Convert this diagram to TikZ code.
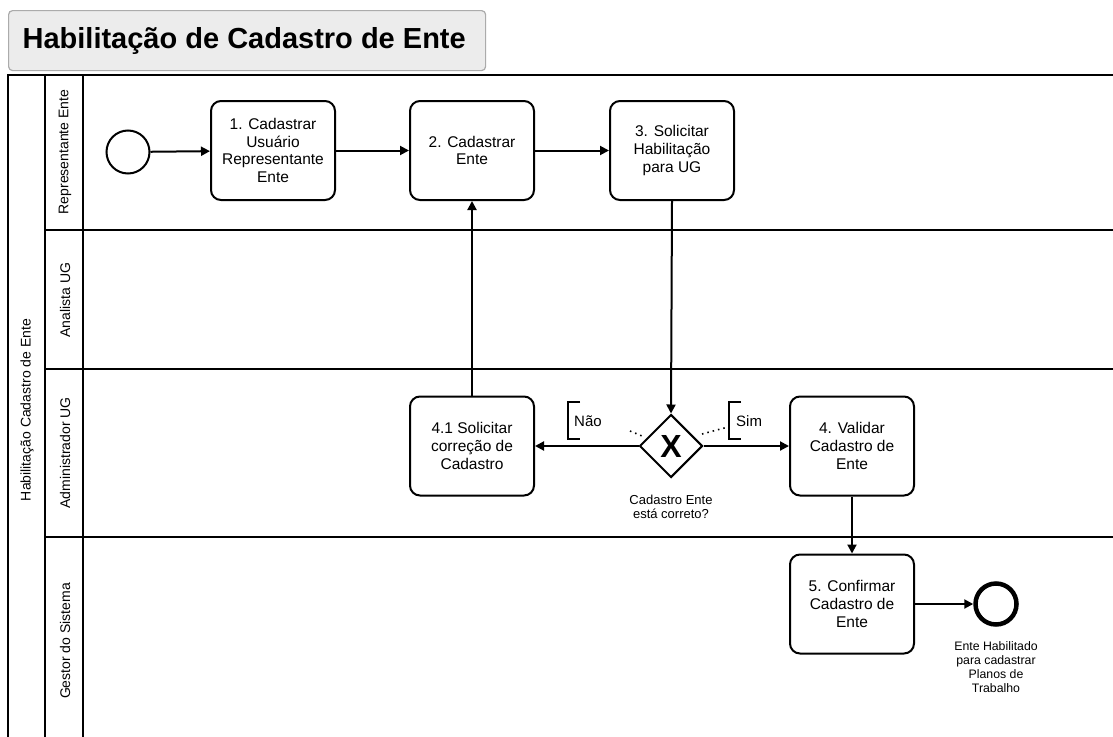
\documentclass[tikz,border=0pt]{standalone}
\usepackage{fontspec}
\setmainfont{Liberation Sans}
\usetikzlibrary{arrows.meta,shapes.geometric}
\definecolor{titlefill}{HTML}{ECECEC}
\definecolor{titledraw}{HTML}{ABABAB}
\tikzset{
  lanestroke/.style={line width=2pt, black},
  task/.style={draw, line width=2pt, rounded corners=10pt, minimum width=124pt, minimum height=99pt, align=center, font=\fontsize{15.5}{17.6}\selectfont, inner sep=2pt},
  flow/.style={line width=2pt, -{Triangle[length=9pt,width=9pt]}},
  lanelabel/.style={rotate=90, font=\fontsize{14}{17}\selectfont},
  evstart/.style={draw, circle, line width=2pt, minimum size=43pt, inner sep=0pt},
  evend/.style={draw, circle, line width=4.5pt, minimum size=41pt, inner sep=0pt},
  gw/.style={draw, diamond, line width=2pt, minimum width=63pt, minimum height=63pt, inner sep=0pt, fill=white, font=\fontsize{32}{32}\selectfont\bfseries},
  small/.style={align=center, font=\fontsize{13}{14.5}\selectfont},
  tiny/.style={align=center, font=\fontsize{12.3}{14}\selectfont},
  note/.style={line width=2pt},
  assoc/.style={line width=1.6pt, dash pattern=on 1.5pt off 4pt},
  annot/.style={anchor=west, font=\fontsize{15}{17}\selectfont, inner sep=0pt},
}
\begin{document}
\begin{tikzpicture}[x=1pt,y=-1pt]
\useasboundingbox (0,0) rectangle (1113,736);
\clip (0,0) rectangle (1113,736);
% title
\node[draw=titledraw, fill=titlefill, line width=1.2pt, rounded corners=4pt, minimum height=60pt, inner xsep=14pt, anchor=north west, font=\fontsize{29}{32}\selectfont\bfseries] (title) at (8,10) {\makebox[449pt][l]{Habilitação de Cadastro de Ente}};
% pool
\draw[lanestroke] (1120,75) -- (8,75) -- (8,760);
\draw[lanestroke] (45,75) -- (45,760);
\draw[lanestroke] (83,75) -- (83,760);
\draw[lanestroke] (45,230) -- (1120,230);
\draw[lanestroke] (45,369) -- (1120,369);
\draw[lanestroke] (45,537) -- (1120,537);
\node[lanelabel] (pool) at (27,410) {Habilitação Cadastro de Ente};
\node[lanelabel] (l1) at (65,152) {Representante Ente};
\node[lanelabel] (l2) at (65,300) {Analista UG};
\node[lanelabel] (l3) at (65,453) {Administrador UG};
\node[lanelabel] (l4) at (65,641) {Gestor do Sistema};
% nodes
\node[evstart] (start) at (128,152) {};
\node[task] (t1) at (273,150.5) {1. Cadastrar\\Usuário\\Representante\\Ente};
\node[task] (t2) at (472,150.5) {2. Cadastrar\\Ente};
\node[task] (t3) at (672,150.5) {3. Solicitar\\Habilitação\\para UG};
\node[task] (t41) at (472,446) {4.1 Solicitar\\correção de\\Cadastro};
\node[gw] (gw) at (671,446) {X};
\node[task] (t4) at (852,446) {4. Validar\\Cadastro de\\Ente};
\node[task] (t5) at (852,604) {5. Confirmar\\Cadastro de\\Ente};
\node[evend] (end) at (996,604) {};
\node[small] (gwlabel) at (671,507) {Cadastro Ente\\está correto?};
\node[tiny] (endlabel) at (996,667) {Ente Habilitado\\para cadastrar\\Planos de\\Trabalho};
% flows
\draw[flow] (start) -- (t1);
\draw[flow] (t1) -- (t2);
\draw[flow] (t2) -- (t3);
\draw[flow] (t3.south) -- (gw.north);
\draw[flow] (gw.west) -- (t41.east);
\draw[flow] (gw.east) -- (t4.west);
\draw[flow] (t41.north) -- (t2.south);
\draw[flow] (t4.south) -- (t5.north);
\draw[flow] (t5.east) -- (end.west);
% annotations
\coordinate (naoA) at (580,402);
\coordinate (naoB) at (580,439);
\draw[note] (naoA) -- ++(-12,0) -- ++(0,37) -- (naoB);
\node[annot] (nao) at (574,421) {Não};
\coordinate (naoD1) at (630,431);
\coordinate (naoD2) at (642,436);
\draw[assoc] (naoD1) -- (naoD2);
\coordinate (simA) at (741,402);
\coordinate (simB) at (741,439);
\draw[note] (simA) -- ++(-12,0) -- ++(0,37) -- (simB);
\node[annot] (sim) at (736,421) {Sim};
\coordinate (simD1) at (702,434);
\coordinate (simD2) at (728,427);
\draw[assoc] (simD1) -- (simD2);
\end{tikzpicture}
\end{document}
